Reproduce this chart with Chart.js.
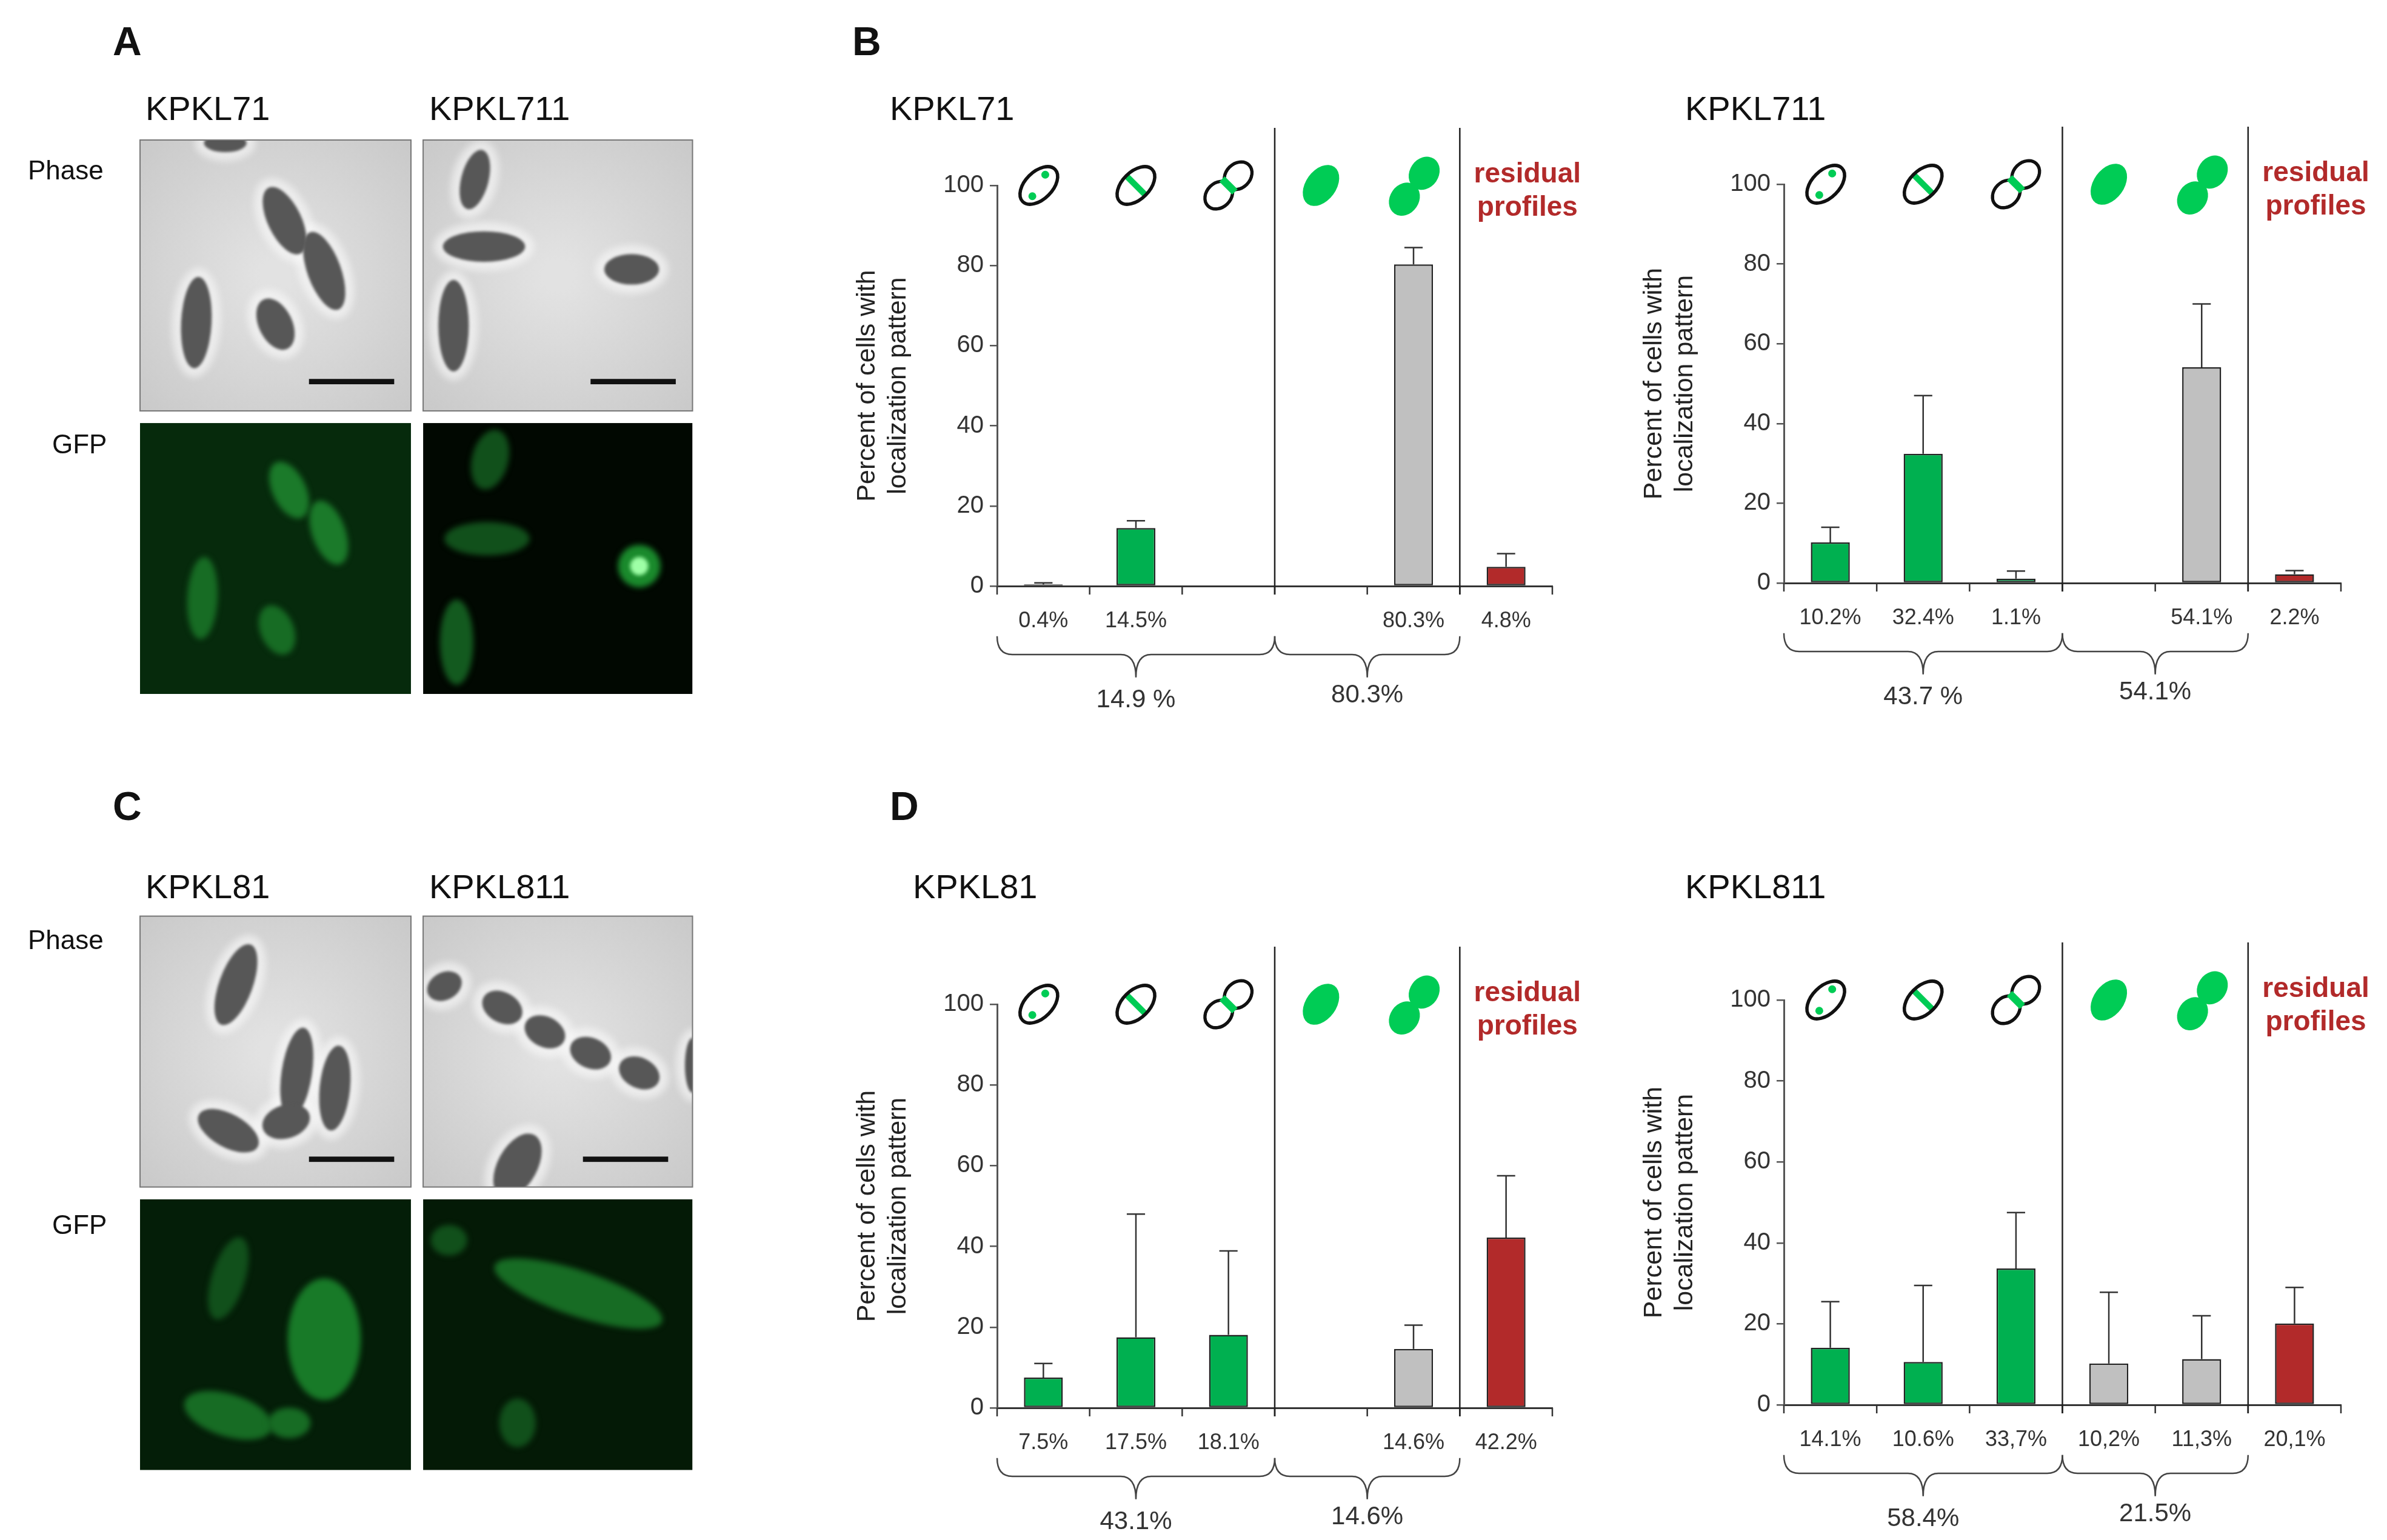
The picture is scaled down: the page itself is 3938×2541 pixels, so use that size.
<!DOCTYPE html>
<html><head><meta charset="utf-8">
<script src="https://cdn.jsdelivr.net/npm/chart.js@4/dist/chart.umd.min.js"></script>
<style>
body{margin:0;width:3938px;height:2541px;background:#fff;position:relative;overflow:hidden;font-family:"Liberation Sans",Arial,sans-serif;}
.t{position:absolute;color:#111;white-space:nowrap;}
.L{font-weight:bold;font-size:66px;}
.h{font-size:56px;}
.p{font-size:44px;}
canvas{position:absolute;}
</style></head><body>
<canvas id="img" width="3938" height="2541" style="left:0;top:0"></canvas>
<div class="t L" style="left:186px;top:30px">A</div>
<div class="t L" style="left:1406px;top:30px">B</div>
<div class="t L" style="left:186px;top:1292px">C</div>
<div class="t L" style="left:1468px;top:1292px">D</div>
<div class="t h" style="left:240px;top:146px">KPKL71</div>
<div class="t h" style="left:708px;top:146px">KPKL711</div>
<div class="t h" style="left:240px;top:1430px">KPKL81</div>
<div class="t h" style="left:708px;top:1430px">KPKL811</div>
<div class="t p" style="left:46px;top:256px">Phase</div>
<div class="t p" style="left:86px;top:708px">GFP</div>
<div class="t p" style="left:46px;top:1526px">Phase</div>
<div class="t p" style="left:86px;top:1996px">GFP</div>
<div class="t h" style="left:1468px;top:146px">KPKL71</div>
<div class="t h" style="left:2780px;top:146px">KPKL711</div>
<div class="t h" style="left:1506px;top:1430px">KPKL81</div>
<div class="t h" style="left:2780px;top:1430px">KPKL811</div>
<canvas id="c1"></canvas><canvas id="c2"></canvas><canvas id="c3"></canvas><canvas id="c4"></canvas>
<script>
// ---- data ----
const categories = ["bipolar","midcell","septal","diffuse","diffuse dividing","residual"];
const kpkl71Values = [0.4,14.5,null,null,80.3,4.8];
const kpkl71Errors = [0.4,1.8,0,0,4.2,3.3];
const kpkl71Labels = ["0.4%","14.5%","","","80.3%","4.8%"];
const kpkl71Totals = ["14.9 %","80.3%"];
const kpkl711Values = [10.2,32.4,1.1,null,54.1,2.2];
const kpkl711Errors = [3.8,14.6,1.9,0,15.9,0.9];
const kpkl711Labels = ["10.2%","32.4%","1.1%","","54.1%","2.2%"];
const kpkl711Totals = ["43.7 %","54.1%"];
const kpkl81Values = [7.5,17.5,18.1,null,14.6,42.2];
const kpkl81Errors = [3.5,30.5,20.8,0,5.9,15.3];
const kpkl81Labels = ["7.5%","17.5%","18.1%","","14.6%","42.2%"];
const kpkl81Totals = ["43.1%","14.6%"];
const kpkl811Values = [14.1,10.6,33.7,10.2,11.3,20.1];
const kpkl811Errors = [11.4,18.9,13.8,17.6,10.7,8.9];
const kpkl811Labels = ["14.1%","10.6%","33,7%","10,2%","11,3%","20,1%"];
const kpkl811Totals = ["58.4%","21.5%"];
const yTicks = [0,20,40,60,80,100];
const barColors = ["#00b050","#00b050","#00b050","#c0c0c0","#c0c0c0","#b22a2a"];

const S = 2.511;
const ICON = "#00cc55";

// ---- microscopy placeholders ----
(function(){
  const c=document.getElementById('img').getContext('2d');
  c.scale(S,S);
  function phase(x0,y0,x1,y1,cells,bar){
    c.save();c.beginPath();c.rect(x0,y0,x1-x0,y1-y0);c.clip();
    const g=c.createRadialGradient((x0+x1)/2,(y0+y1)/2,10,(x0+x1)/2,(y0+y1)/2,130);
    g.addColorStop(0,"#e2e2e2");g.addColorStop(1,"#c8c8c8");
    c.fillStyle=g;c.fillRect(x0,y0,x1-x0,y1-y0);
    cells.forEach(e=>{c.save();c.filter="blur(6px)";c.fillStyle="rgba(250,250,250,0.6)";c.beginPath();c.ellipse(e[0],e[1],e[2]+6,e[3]+6,e[4],0,7);c.fill();c.restore();});
    cells.forEach(e=>{c.save();c.filter="blur(2px)";c.fillStyle="#575757";c.beginPath();c.ellipse(e[0],e[1],e[2],e[3],e[4],0,7);c.fill();c.restore();});
    c.fillStyle="#111";c.fillRect(bar[0],bar[1],bar[2],3.5);
    c.restore();c.strokeStyle="#777";c.lineWidth=0.8;c.strokeRect(x0,y0,x1-x0,y1-y0);
  }
  function gfp(x0,y0,x1,y1,cells,bg){
    c.save();c.beginPath();c.rect(x0,y0,x1-x0,y1-y0);c.clip();
    c.fillStyle=bg;c.fillRect(x0,y0,x1-x0,y1-y0);
    cells.forEach(e=>{c.save();c.filter="blur("+(e[6]||5)+"px)";c.fillStyle=e[5];c.beginPath();c.ellipse(e[0],e[1],e[2],e[3],e[4],0,7);c.fill();c.restore();});
    c.restore();
  }
  phase(92,92,270,270,[[187,145,11,24,-0.45],[213,178,11,27,-0.35],[129,212,10,30,0.05],[181,213,11,18,-0.45],[148,94,14,6,0]],[203,249,56]);
  phase(278,92,455,270,[[312,118,9,20,0.25],[318,162,27,10,0],[298,214,10,30,0],[415,177,18,10,0]],[388,249,56]);
  gfp(92,278,270,456,[[190,322,11,20,-0.45,"#1b7a2a"],[216,350,11,22,-0.35,"#1b7a2a"],[133,393,10,27,0.05,"#176c24"],[182,414,11,17,-0.4,"#176c24"]],"#062a0c");
  gfp(278,278,455,456,[[322,302,12,20,0.25,"#11501b"],[320,354,28,11,0,"#11501b"],[300,422,11,28,0,"#135a1f"],[420,372,14,14,0,"#1a8a2c",5],[420,372,6,6,0,"#9effa6",3]],"#010801");
  phase(92,602,270,780,[[155,647,11,28,0.35],[195,705,10,30,0.15],[220,715,10,28,0.1],[150,743,22,11,0.5],[188,737,16,11,-0.3]],[203,760,56]);
  phase(278,602,455,780,[[292,648,12,9,-0.5],[330,662,14,10,0.5],[358,678,14,10,0.45],[388,692,14,10,0.4],[420,705,14,10,0.45],[340,766,13,23,0.5],[455,700,5,18,0]],[383,760,56]);
  gfp(92,788,270,966,[[150,840,11,28,0.3,"#11501b"],[213,880,24,40,0,"#187a28"],[150,930,30,14,0.3,"#176c24"],[190,935,14,10,0,"#176c24"]],"#041e08");
  gfp(278,788,455,966,[[295,815,12,10,0,"#11501b"],[380,850,58,15,0.32,"#176c24"],[340,935,12,16,0,"#11501b"]],"#041a06");
})();

// ---- charts ----
function drawIcon(ctx,k,cx,cy){
  const s=S; ctx.save(); ctx.translate(cx,cy);
  ctx.lineWidth=2.2*s; ctx.strokeStyle="#111";
  if(k<3){
    ctx.rotate(Math.PI/4);
    if(k<2){
      ctx.beginPath();ctx.ellipse(0,0,9*s,15*s,0,0,7);ctx.fillStyle="#fff";ctx.fill();
      ctx.save();ctx.clip();ctx.fillStyle=ICON;
      if(k===0){ctx.beginPath();ctx.arc(-2*s,-8*s,2.6*s,0,7);ctx.fill();ctx.beginPath();ctx.arc(2*s,8*s,2.6*s,0,7);ctx.fill();}
      else{ctx.fillRect(-10*s,-2*s,20*s,4*s);}
      ctx.restore();ctx.beginPath();ctx.ellipse(0,0,9*s,15*s,0,0,7);ctx.stroke();
    } else {
      ctx.beginPath();ctx.ellipse(0,-9*s,8*s,10*s,0,0,7);ctx.stroke();
      ctx.beginPath();ctx.ellipse(0,9*s,8*s,10*s,0,0,7);ctx.stroke();
      ctx.fillStyle="#fff";
      ctx.beginPath();ctx.ellipse(0,-9*s,6.9*s,8.9*s,0,0,7);ctx.fill();
      ctx.beginPath();ctx.ellipse(0,9*s,6.9*s,8.9*s,0,0,7);ctx.fill();
      ctx.fillStyle=ICON;ctx.fillRect(-6*s,-2.5*s,12*s,5*s);
    }
  } else if(k===3){
    ctx.rotate(Math.PI/5);ctx.fillStyle=ICON;ctx.beginPath();ctx.ellipse(0,0,10*s,15*s,0,0,7);ctx.fill();
  } else if(k===4){
    ctx.fillStyle=ICON;
    ctx.beginPath();ctx.ellipse(-6*s,9*s,9.5*s,11.5*s,0.6,0,7);ctx.fill();
    ctx.beginPath();ctx.ellipse(7*s,-8*s,9.5*s,11.5*s,0.6,0,7);ctx.fill();
  }
  ctx.restore();
}
function brace(ctx,x0,x1,yt,ym,yb){
  const xm=(x0+x1)/2,r=10*S;
  ctx.beginPath();ctx.moveTo(x0,yt);
  ctx.quadraticCurveTo(x0,ym,x0+r,ym);ctx.lineTo(xm-r,ym);
  ctx.quadraticCurveTo(xm,ym,xm,yb);ctx.quadraticCurveTo(xm,ym,xm+r,ym);
  ctx.lineTo(x1-r,ym);ctx.quadraticCurveTo(x1,ym,x1,yt);ctx.stroke();
}
function makeChart(id,ax,ay100,axr,ay0,vals,errs,labels,totals){
  const PL=300,PT=260,PR=90,PB=240;
  const cv=document.getElementById(id);
  cv.style.left=(ax-PL)+"px";cv.style.top=(ay100-PT)+"px";
  const W=axr-ax+PL+PR,H=ay0-ay100+PT+PB;
  cv.style.width=W+"px";cv.style.height=H+"px";cv.width=W;cv.height=H;
  const extra={id:'extra',afterDraw(ch){
    const ctx=ch.ctx,x=ch.scales.x,y=ch.scales.y;
    const cw=(x.right-x.left)/6, z=y.getPixelForValue(0), top=y.getPixelForValue(100);
    const bx=i=>x.left+i*cw;
    ctx.save();ctx.strokeStyle="#333";ctx.lineWidth=2.5;
    for(let i=0;i<=6;i++){ctx.beginPath();ctx.moveTo(bx(i),z);ctx.lineTo(bx(i),z+14);ctx.stroke();}
    ctx.strokeStyle="#222";ctx.lineWidth=2.5;
    [3,5].forEach(i=>{ctx.beginPath();ctx.moveTo(bx(i),z+14);ctx.lineTo(bx(i),top-95);ctx.stroke();});
    ctx.strokeStyle="#333";ctx.lineWidth=2.5;
    vals.forEach((v,i)=>{ if(v==null||!errs[i])return;
      const px=x.getPixelForValue(i),p0=y.getPixelForValue(v),p1=y.getPixelForValue(v+errs[i]);
      ctx.beginPath();ctx.moveTo(px,p0);ctx.lineTo(px,p1);ctx.moveTo(px-6*S,p1);ctx.lineTo(px+6*S,p1);ctx.stroke();});
    for(let k=0;k<5;k++) drawIcon(ctx,k,x.getPixelForValue(k)+(k===0?-3*S:0),top);
    ctx.fillStyle="#b22a2a";ctx.font="bold 46px 'Liberation Sans', Arial";ctx.textAlign="center";ctx.textBaseline="middle";
    const rx=x.getPixelForValue(5)+14*S;
    ctx.fillText("residual",rx,top-7*S);ctx.fillText("profiles",rx,top+15*S);
    ctx.fillStyle="#333";ctx.font="36px 'Liberation Sans', Arial";
    labels.forEach((l,i)=>{ if(l) ctx.fillText(l,x.getPixelForValue(i),z+23*S);});
    ctx.strokeStyle="#444";ctx.lineWidth=2.5;
    brace(ctx,bx(0),bx(3),z+33*S,z+45*S,z+60*S);
    brace(ctx,bx(3),bx(5),z+33*S,z+45*S,z+60*S);
    ctx.font="42px 'Liberation Sans', Arial";
    ctx.fillText(totals[0],(bx(0)+bx(3))/2,z+75*S);
    ctx.fillText(totals[1],(bx(3)+bx(5))/2,z+72*S);
    ctx.restore();
  }};
  return new Chart(cv,{type:'bar',
    data:{labels:categories,datasets:[{data:vals,backgroundColor:barColors,borderColor:"#222",borderWidth:2.5,barPercentage:0.42,categoryPercentage:1,borderSkipped:false}]},
    options:{responsive:false,animation:false,devicePixelRatio:1,
      layout:{padding:{left:50,top:PT,right:PR,bottom:PB}},
      plugins:{legend:{display:false},tooltip:{enabled:false}},
      scales:{
        x:{grid:{display:false},ticks:{display:false},border:{display:true,color:"#333",width:3},afterFit(s){s.height=0;}},
        y:{min:0,max:100,afterBuildTicks(s){s.ticks=yTicks.map(v=>({value:v}));},
           ticks:{font:{size:40,family:"'Liberation Sans', Arial"},color:"#333",padding:10},
           grid:{drawOnChartArea:false,drawTicks:true,tickLength:12,color:"#555",lineWidth:2.5},
           border:{color:"#555",width:3},
           title:{display:true,text:["Percent of cells with","localization pattern"],font:{size:43,family:"'Liberation Sans', Arial"},color:"#222",padding:{top:10,bottom:0},lineHeight:1.15},
           afterFit(s){s.width=250;}}
      }},plugins:[extra]});
}
makeChart('c1',1645,306,2561,967,kpkl71Values,kpkl71Errors,kpkl71Labels,kpkl71Totals);
makeChart('c2',2943,304,3862,962,kpkl711Values,kpkl711Errors,kpkl711Labels,kpkl711Totals);
makeChart('c3',1645,1657,2561,2323,kpkl81Values,kpkl81Errors,kpkl81Labels,kpkl81Totals);
makeChart('c4',2943,1650,3862,2318,kpkl811Values,kpkl811Errors,kpkl811Labels,kpkl811Totals);
</script></body></html>
